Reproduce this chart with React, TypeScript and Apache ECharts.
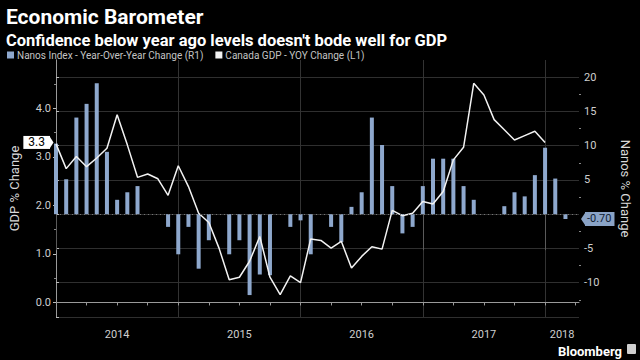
import { useEffect, useRef } from 'react';
import * as echarts from 'echarts';

// Year labels for the monthly x axis (index 0 = Jan 2014)
const yearLabels = ['2014', '2015', '2016', '2017', '2018'];

// Canada GDP - YOY change (%), left axis, monthly from Jan 2014
const gdpChange = [
  3.27, 2.76, 3.01, 2.8, 2.98, 3.18, 3.87, 3.25, 2.58, 2.65,
  2.55, 2.21, 2.82, 2.39, 1.84, 1.65, 1.12, 0.47, 0.52, 0.85,
  1.36, 0.52, 0.16, 0.55, 0.41, 1.31, 1.28, 1.12, 1.26, 0.71,
  0.95, 1.15, 1.1, 1.9, 1.79, 1.84, 2.08, 2.03, 2.29, 2.94,
  3.2, 4.52, 4.28, 3.77, 3.56, 3.35, 3.44, 3.53, 3.3,
];

// Nanos Index - year-over-year change (%), right axis, monthly from Jan 2014
const nanosChange = [
  10.3, 5.1, 14.1, 16.1, 19.1, 9.1, 2.1, 3.2, 4.1, 0,
  0, -1.85, -5.85, -1.85, -7.95, -3.8, 0, -5.85, -3.8, -11.8,
  -8.8, -8.9, 0, -1.85, -0.9, -5.85, 0, -1.85, -4.05, 1.07,
  3.2, 14.1, 10.1, 4.1, -2.8, -1.85, 4.1, 8.1, 8.1, 8.1,
  4.1, 2.1, 0, 0, 1.17, 3.2, 2.6, 5.7, 9.7, 5.2, -0.7,
];

const leftTickValues = [0, 1, 2, 3, 4];
const leftMinorTicks = [0.5, 1.5, 2.5, 3.5, 4.5];
const rightTickValues = [-15, -10, -5, 0, 5, 10, 15, 20];
const rightLabelValues = [-10, -5, 5, 10, 15, 20];
const rightMinorTicks = [-12.5, -7.5, -2.5, 2.5, 7.5, 12.5, 17.5];
const yearLabelPositions = [6, 18, 30, 42, 49.67];
const yearBoundaries = [0, 12, 24, 36, 48];

const FONT = 'Roboto, "Liberation Sans", sans-serif';

export default function App() {
  const ref = useRef<HTMLDivElement>(null);

  useEffect(() => {
    if (!ref.current) return;
    const chart = echarts.init(ref.current, null, { renderer: 'svg' });
    const xMax = 51.33;
    const quarterTicks: number[] = [];
    for (let q = 0; q <= 51; q += 3) quarterTicks.push(q);

    const lastGdp = gdpChange[gdpChange.length - 1];
    const lastNanos = nanosChange[nanosChange.length - 1];

    const staticGraphics: any[] = [
      {
        id: 'brand',
        type: 'text',
        right: 18,
        bottom: 2,
        style: { text: 'Bloomberg', fill: '#fff', font: `bold 13px ${FONT}` },
      },
      {
        id: 'brandIcon',
        type: 'rect',
        right: 4,
        bottom: 6,
        shape: { width: 9, height: 10, r: 1 },
        style: { fill: '#cfcfcf' },
      },
    ];

    const option: any = {
      animation: false,
      backgroundColor: '#000',
      textStyle: { fontFamily: FONT },
      title: [
        {
          text: 'Economic Barometer',
          left: 1,
          top: 1,
          textStyle: { color: '#fff', fontSize: 21, fontWeight: 'bold', fontFamily: FONT },
        },
        {
          text: "Confidence below year ago levels doesn't bode well for GDP",
          left: 1,
          top: 27,
          textStyle: { color: '#fff', fontSize: 16.5, fontWeight: 'bold', fontFamily: FONT },
        },
      ],
      legend: {
        left: 2,
        top: 45,
        icon: 'rect',
        itemWidth: 7,
        itemHeight: 7,
        itemGap: 12,
        textStyle: { color: '#c4c4c4', fontSize: 10, fontFamily: FONT, padding: [0, 0, 0, -2] },
        data: ['Nanos Index - Year-Over-Year Change (R1)', 'Canada GDP - YOY Change (L1)'],
      },
      grid: { left: 48, right: 53, top: 60, bottom: 43 },
      xAxis: [
        {
          type: 'value',
          min: 0,
          max: xMax,
          position: 'bottom',
          axisLine: { show: true, lineStyle: { color: '#9a9a9a', width: 1 } },
          axisTick: { show: true, customValues: quarterTicks, length: 3, lineStyle: { color: '#9a9a9a' } },
          axisLabel: {
            customValues: yearLabelPositions,
            formatter: (v: number) => yearLabels[Math.floor(v / 12)] ?? '',
            color: '#cfcfcf',
            fontSize: 11,
            margin: 12,
            fontFamily: FONT,
          },
          splitLine: { show: false },
        },
        {
          type: 'value',
          min: 0,
          max: xMax,
          interval: 12,
          position: 'bottom',
          axisLine: { show: false },
          axisTick: { show: true, customValues: yearBoundaries, length: 36, lineStyle: { color: '#5a5a5a' } },
          axisLabel: { show: false },
          splitLine: { show: true, lineStyle: { color: '#333' } },
        },
      ],
      yAxis: [
        {
          type: 'value',
          min: -0.3,
          max: 5.0,
          position: 'left',
          name: 'GDP % Change',
          nameLocation: 'middle',
          nameGap: 35,
          nameTextStyle: { color: '#d8d8d8', fontSize: 13, fontFamily: FONT },
          axisLine: { show: true, lineStyle: { color: '#9a9a9a' } },
          axisTick: { show: true, customValues: leftTickValues, length: 3, lineStyle: { color: '#bbb' } },
          axisLabel: {
            customValues: leftTickValues,
            formatter: (v: number) => v.toFixed(1),
            color: '#cfcfcf',
            fontSize: 11,
            margin: 5,
            fontFamily: FONT,
          },
          splitLine: { show: false },
        },
        {
          type: 'value',
          min: -15,
          max: 22.5,
          interval: 5,
          position: 'right',
          name: 'Nanos % Change',
          nameLocation: 'middle',
          nameGap: 40,
          nameRotate: -90,
          nameTextStyle: { color: '#d8d8d8', fontSize: 13, fontFamily: FONT },
          axisLine: { show: true, lineStyle: { color: '#9a9a9a' } },
          axisTick: { show: true, customValues: rightTickValues, length: 3, lineStyle: { color: '#bbb' } },
          axisLabel: {
            customValues: rightLabelValues,
            formatter: (v: number) => String(v),
            color: '#cfcfcf',
            fontSize: 11,
            margin: 5,
            fontFamily: FONT,
          },
          splitLine: { show: true, lineStyle: { color: '#2f2f2f' } },
        },
        {
          type: 'value',
          min: -0.3,
          max: 5.0,
          position: 'left',
          axisLine: { show: false },
          axisTick: { show: true, customValues: leftMinorTicks, length: 2, lineStyle: { color: '#888' } },
          axisLabel: { show: false },
          splitLine: { show: false },
        },
        {
          type: 'value',
          min: -15,
          max: 22.5,
          position: 'right',
          axisLine: { show: false },
          axisTick: { show: true, customValues: rightMinorTicks, length: 2, lineStyle: { color: '#888' } },
          axisLabel: { show: false },
          splitLine: { show: false },
        },
      ],
      series: [
        {
          name: 'Nanos Index - Year-Over-Year Change (R1)',
          type: 'bar',
          xAxisIndex: 0,
          yAxisIndex: 1,
          barWidth: 4,
          itemStyle: { color: '#8ea8cd' },
          data: nanosChange.map((v, i) => [i, v]),
          markLine: {
            silent: true,
            symbol: 'none',
            data: [
              {
                yAxis: 0,
                lineStyle: { color: '#777', type: [1, 3], width: 1 },
                label: { show: false },
              },
            ],
          },
          z: 2,
        },
        {
          name: 'Canada GDP - YOY Change (L1)',
          type: 'line',
          xAxisIndex: 0,
          yAxisIndex: 0,
          symbol: 'none',
          itemStyle: { color: '#f2f2f2' },
          lineStyle: { color: '#f2f2f2', width: 1.5 },
          data: gdpChange.map((v, i) => [i, v]),
          z: 3,
        },
      ],
      graphic: staticGraphics,
    };

    chart.setOption(option);

    // Last-value tags placed on the axes, from the chart's own scales
    const [xr, yr] = chart.convertToPixel({ seriesIndex: 0 }, [xMax, lastNanos]) as number[];
    const [xl, yl] = chart.convertToPixel({ seriesIndex: 1 }, [0, lastGdp]) as number[];

    chart.setOption({
      graphic: [
        ...staticGraphics,
        {
          id: 'gdpArrow',
          type: 'polygon',
          shape: { points: [[xl - 6, yl - 5.5], [xl - 2.5, yl], [xl - 6, yl + 5.5]] },
          style: { fill: '#fff' },
          z: 10,
        },
        {
          id: 'gdpTag',
          type: 'text',
          z: 10,
          style: {
            text: lastGdp.toFixed(1),
            x: xl - 6,
            y: yl,
            align: 'right',
            verticalAlign: 'middle',
            fill: '#000',
            font: `12px ${FONT}`,
            backgroundColor: '#fff',
            padding: [1, 5, 0, 5],
          },
        },
        {
          id: 'nanosArrow',
          type: 'polygon',
          shape: { points: [[xr + 6, yr - 6], [xr + 2, yr], [xr + 6, yr + 6]] },
          style: { fill: '#8aa3c6' },
          z: 10,
        },
        {
          id: 'nanosTag',
          type: 'text',
          z: 10,
          style: {
            text: lastNanos.toFixed(2),
            x: xr + 6,
            y: yr,
            align: 'left',
            verticalAlign: 'middle',
            fill: '#0f1d33',
            font: `11px ${FONT}`,
            backgroundColor: '#8aa3c6',
            padding: [2, 3, 1, 2],
          },
        },
      ],
    });

    return () => chart.dispose();
  }, []);

  return (
    <div
      ref={ref}
      style={{ position: 'fixed', left: 0, top: 0, width: 640, height: 360, background: '#000' }}
    />
  );
}
